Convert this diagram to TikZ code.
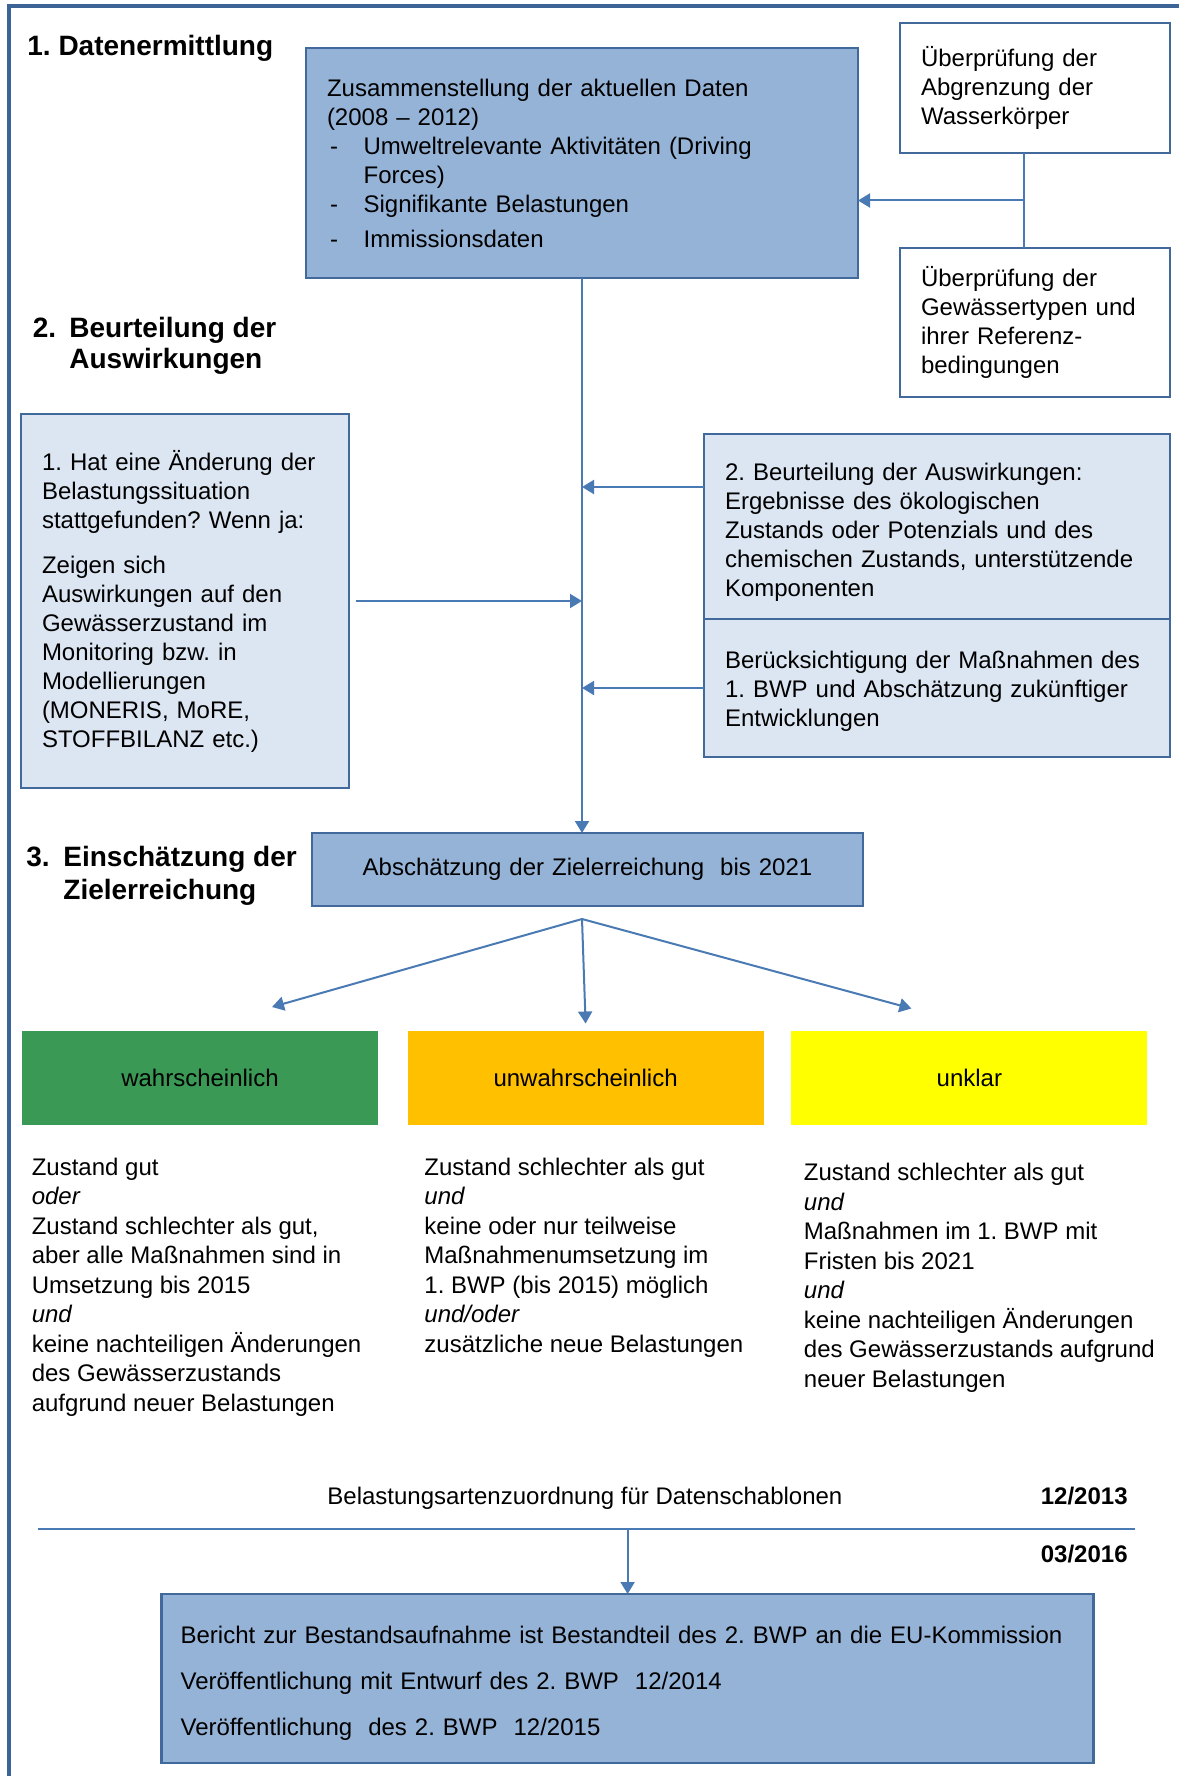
\documentclass[tikz,border=0pt]{standalone}
\usepackage{fontspec}
\setmainfont{Liberation Sans}
\usetikzlibrary{arrows.meta,positioning,calc}
\frenchspacing
\definecolor{BWBlue}{HTML}{95B3D7}
\definecolor{BWPale}{HTML}{DCE6F2}
\definecolor{BWEdge}{HTML}{41699B}
\definecolor{BWLine}{HTML}{4A7AB4}
\definecolor{BWFrame}{HTML}{3C6496}
\definecolor{BWGreen}{HTML}{3A9A55}
\definecolor{BWOrange}{HTML}{FFC000}
\definecolor{BWYellow}{HTML}{FFFF00}
\newcommand{\bodysize}{\fontsize{12}{14.5}\selectfont}
\newcommand{\headsize}{\fontsize{14}{15.5}\selectfont\bfseries}
\newcommand{\dashitem}{\makebox[18.3pt][l]{\hspace{1.5pt}-}}
\tikzset{
  stepbox/.style={draw=BWEdge,line width=1.4pt,align=left,inner xsep=10.5pt,inner ysep=0pt,outer sep=0pt,font=\bodysize,anchor=north west},
  ratebox/.style={inner sep=0pt,outer sep=0pt,minimum width=178pt,minimum height=47pt,font=\bodysize,anchor=north west},
  headline/.style={font=\headsize,align=left,anchor=base west,inner sep=0pt},
  coltext/.style={font=\fontsize{12}{14.75}\selectfont,align=left,anchor=base west,inner sep=0pt},
  feedarrow/.style={-{Triangle[length=6pt,width=7pt]},line width=1pt,draw=BWLine},
  plainlink/.style={line width=1pt,draw=BWLine},
  frameline/.style={line width=1.75pt,draw=BWFrame}
}

\begin{document}
\begin{tikzpicture}[x=0.5pt,y=0.5pt]
\useasboundingbox (0,0) rectangle (1179,-1776);
\draw[frameline] (9,-1776) -- (9,-6) -- (1179,-6);

\node[headline] (h1) at (27,-56) {1. Datenermittlung};
\node[headline] (h2) at (32.5,-368) {\makebox[18.25pt][l]{2.}Beurteilung der\\\hspace*{18.25pt}Auswirkungen};
\node[headline] (h3) at (26,-899) {\makebox[18.5pt][l]{3.}Einschätzung der\\[1pt]\hspace*{18.5pt}Zielerreichung};

\node[stepbox,fill=BWBlue,text width=255pt,minimum height=115pt] (A) at (306,-48)
  {Zusammenstellung der aktuellen Daten\\(2008 – 2012)\\
   \dashitem Umweltrelevante Aktivitäten (Driving\\\hspace*{18.3pt}Forces)\\
   \dashitem Signifikante Belastungen\\[3pt]
   \dashitem Immissionsdaten};
\node[stepbox,fill=white,text width=114pt,minimum height=65pt] (B) at (900,-23)
  {Überprüfung der\\Abgrenzung der\\Wasserkörper};
\node[stepbox,fill=white,text width=114pt,minimum height=74.5pt,below=47.5pt of B] (C)
  {Überprüfung der\\Gewässertypen und\\ihrer Referenz-\\bedingungen};
\node[stepbox,fill=BWPale,text width=143pt,minimum height=187pt] (E) at (21,-414)
  {1. Hat eine Änderung der\\Belastungssituation\\stattgefunden? Wenn ja:\\[8pt]
   Zeigen sich\\Auswirkungen auf den\\Gewässerzustand im\\Monitoring bzw. in\\Modellierungen\\(MONERIS, MoRE,\\STOFFBILANZ etc.)};
\node[stepbox,fill=BWPale,text width=212pt,minimum height=92.5pt] (F1) at (704,-434)
  {\rule{0pt}{14pt}2. Beurteilung der Auswirkungen:\\Ergebnisse des ökologischen\\Zustands oder Potenzials und des\\chemischen Zustands, unterstützende\\Komponenten};
\node[stepbox,fill=BWPale,text width=212pt,minimum height=69pt,below=0pt of F1] (F2)
  {\rule{0pt}{12pt}Berücksichtigung der Maßnahmen des\\1. BWP und Abschätzung zukünftiger\\Entwicklungen};
\node[stepbox,fill=BWBlue,align=center,text width=254.5pt,minimum height=36.5pt] (D) at (312,-833)
  {Abschätzung der Zielerreichung\ \ bis 2021};

\coordinate (bc) at ([xshift=-5.5pt]B.south);
\coordinate (bcmid) at ($(bc)!0.5!(bc |- C.north)$);
\draw[plainlink] (bc) -- (bc |- C.north);
\draw[feedarrow] (bcmid) -- (bcmid -| A.east);
\draw[feedarrow] (A.south) -- (A.south |- D.north);
\coordinate (f1in) at ([yshift=19.75pt]F1.west);
\draw[feedarrow] (f1in) -- (f1in -| A.south);
\draw[feedarrow] (F2.west) -- (F2.west -| A.south);
\draw[feedarrow,shorten <=3.5pt] (E.east) -- (E.east -| A.south);

\node[ratebox,fill=BWGreen] (wahr) at (22,-1030.5) {wahrscheinlich};
\node[ratebox,fill=BWOrange,right=14.8pt of wahr] (unwahr) {unwahrscheinlich};
\node[ratebox,fill=BWYellow,right=13.9pt of unwahr] (unklar) {unklar};

\coordinate (fork) at ([yshift=-6.5pt]D.south -| A.south);
\draw[feedarrow] (fork) -- ($(wahr.north)+(72,23.5)$);
\draw[feedarrow] (fork) -- ($(unwahr.north)+(0,7)$);
\draw[feedarrow] (fork) -- ($(unklar.north)+(-58,22)$);

\node[coltext] (col1) at (31.4,-1411)
  {Zustand gut\\\textit{oder}\\Zustand schlechter als gut,\\aber alle Maßnahmen sind in\\Umsetzung bis 2015\\\textit{und}\\keine nachteiligen Änderungen\\des Gewässerzustands\\aufgrund neuer Belastungen};
\node[coltext] (col2) at (424,-1352)
  {Zustand schlechter als gut\\\textit{und}\\keine oder nur teilweise\\Maßnahmenumsetzung im\\1. BWP (bis 2015) möglich\\\textit{und/oder}\\zusätzliche neue Belastungen};
\node[coltext] (col3) at (803.5,-1387)
  {Zustand schlechter als gut\\\textit{und}\\Maßnahmen im 1. BWP mit\\Fristen bis 2021\\\textit{und}\\keine nachteiligen Änderungen\\des Gewässerzustands aufgrund\\neuer Belastungen};

\node[anchor=base west,inner sep=0pt,font=\bodysize] (belast) at (327,-1504) {Belastungsartenzuordnung für Datenschablonen};
\node[anchor=base east,inner sep=0pt,font=\bodysize\bfseries] (d1) at (1128,-1504) {12/2013};
\node[anchor=base east,inner sep=0pt,font=\bodysize\bfseries] (d2) at (1128,-1562) {03/2016};
\coordinate (ruleL) at (38,-1529);
\coordinate (ruleR) at (1135,-1529);
\draw[plainlink] (ruleL) -- (ruleR);

\node[stepbox,fill=BWBlue,inner xsep=9.5pt,text width=447pt,minimum height=84.5pt] (G) at (161.6,-1594)
  {\rule{0pt}{13pt}Bericht zur Bestandsaufnahme ist Bestandteil des 2. BWP an die EU-Kommission\\[8.5pt]
   Veröffentlichung mit Entwurf des 2. BWP\ \ 12/2014\\[8.5pt]
   Veröffentlichung\ \ des 2. BWP\ \ 12/2015};
\draw[feedarrow] (ruleL -| G.north) -- (G.north);
\end{tikzpicture}
\end{document}
